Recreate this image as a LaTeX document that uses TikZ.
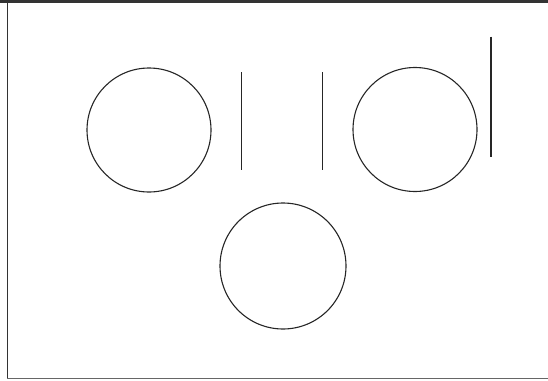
\documentclass[tikz,border=0pt]{standalone}
\begin{document}
\begin{tikzpicture}[x=1pt,y=-1pt,
  ring/.style={circle,draw=black!85,line width=1.1pt,minimum size=124pt,inner sep=0pt},
  bar/.style={draw=black!85,line width=1.3pt},
  frame/.style={draw=black!80,line width=1.6pt}]
\useasboundingbox (0,0) rectangle (548,380);
\draw[frame,line width=2.4pt] (0,1.5) -- (548,1.5);
\draw[frame] (7.5,1) -- (7.5,378);
\draw[frame,draw=black!60] (7,378.5) -- (548,378.5);
\node[ring] (c1) at (149,130) {};
\node[ring] (c2) at (415,129.5) {};
\node[ring,minimum size=126pt] (c3) at (283,266) {};
\draw[bar] (241.3,72) -- (241.3,169.5);
\draw[bar] (322.3,72) -- (322.3,169.5);
\draw[bar] (491,36.5) -- (491,156.5);
\end{tikzpicture}
\end{document}
